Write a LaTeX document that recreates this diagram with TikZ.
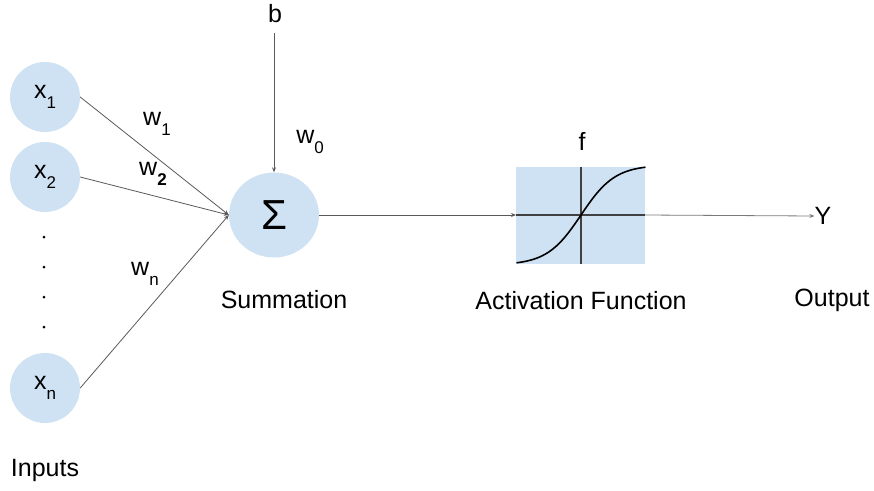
\documentclass[tikz,border=0pt]{standalone}
\usepackage{fontspec}
\setmainfont{Liberation Sans}
\usetikzlibrary{shapes.geometric,arrows.meta}
\definecolor{nodeblue}{HTML}{CFE2F3}
\definecolor{linegray}{HTML}{595959}
\newcommand\subx[2]{#1\raisebox{-0.42em}{\fontsize{17}{17}\selectfont #2}}
\begin{document}
\begin{tikzpicture}[x=1pt,y=-1pt,
  every node/.style={font=\fontsize{25}{29}\selectfont, inner sep=0pt},
  inputnode/.style={circle, fill=nodeblue, minimum size=70pt},
  sumnode/.style={ellipse, fill=nodeblue, minimum width=90pt, minimum height=85pt},
  conn/.style={draw=linegray, line width=0.8pt},
  arr/.style={conn, -{Stealth[length=5pt,width=4pt]}}]
\useasboundingbox (0,0) rectangle (874,490);
% input nodes
\node[inputnode] (x1) at (45,97) {\subx{x}{1}};
\node[inputnode] (x2) at (45,177) {\subx{x}{2}};
\node[inputnode] (xn) at (45,388) {\subx{x}{n}};
\foreach \yy/\nm in {237/d1,267/d2,297/d3,327/d4}
  \node[circle, fill=black, minimum size=3pt] (\nm) at (44,\yy) {};
% summation
\node[sumnode] (sum) at (274,215) {\fontsize{42}{42}\selectfont Σ};
\node (b) at (275,14) {b};
\coordinate (btop) at (274,33);
% activation box
\coordinate (boxl) at (516,215);
\coordinate (boxr) at (645,215);
\fill[nodeblue] (516,167) rectangle (645,264);
\draw[line width=1.4pt, draw=black!75] (boxl) -- (boxr);
\draw[line width=1.4pt, draw=black!75] (581,167) -- (581,264);
\draw[line width=1.6pt, black] plot[domain=-1:1, samples=60, smooth] ({581+64.5*\x},{215-50*tanh(1.9*\x)});
\node (f) at (582,141) {f};
% output
\node (Y) at (823,216) {Y};
% connectors
\draw[arr] (x1.east) -- (sum.west);
\draw[arr] (x2.east) -- (sum.west);
\draw[arr] (xn.east) -- (sum.west);
\draw[arr] (btop) -- (sum.north);
\draw[arr] (sum.east) -- (boxl);
\draw[arr, draw=linegray!80] (boxr) -- (Y.west);
% weights
\node (w1) at (157,124) {\subx{w}{1}};
\node (w2) at (153,174) {\subx{w}{\bfseries 2}};
\node (wn) at (145,274) {\subx{w}{n}};
\node (w0) at (310,142) {\subx{w}{0}};
% labels
\node (lsum) at (284,300) {Summation};
\node (lact) at (581,301) {Activation Function};
\node (lout) at (832,300) {Output};
\node (lin) at (45,470) {Inputs};
\end{tikzpicture}
\end{document}
